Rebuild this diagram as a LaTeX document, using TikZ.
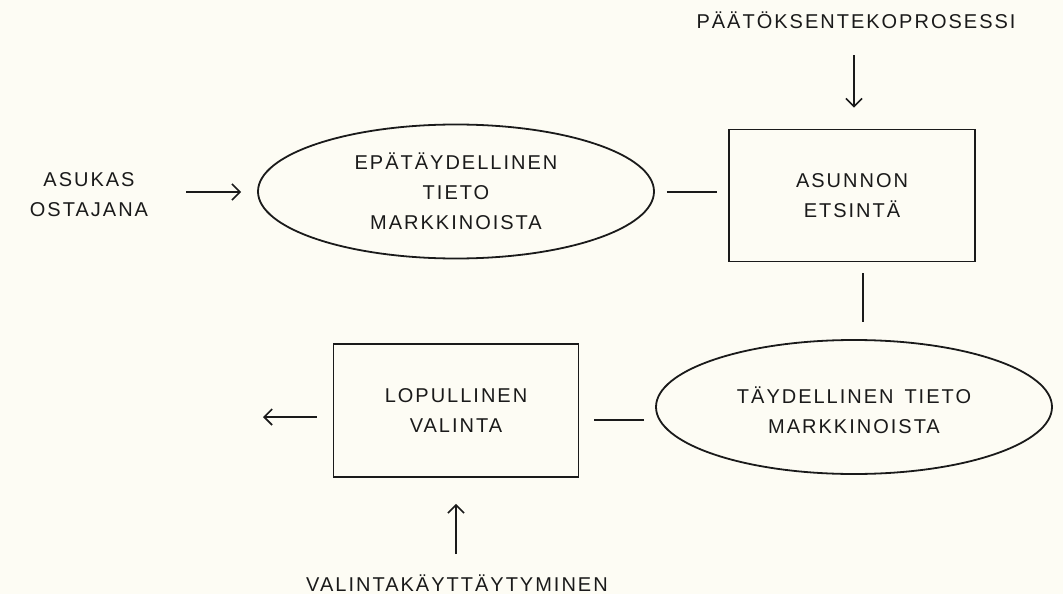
\documentclass[tikz,border=0pt]{standalone}
\usepackage{fontspec}
\setmainfont{Liberation Sans}[LetterSpace=10]
\usetikzlibrary{shapes.geometric,arrows.meta,calc}
\definecolor{bg}{HTML}{FDFCF4}
\definecolor{ink}{HTML}{1A1A1A}
\begin{document}
\begin{tikzpicture}[x=1pt,y=-1pt,
  txt/.style={font=\fontsize{20pt}{30pt}\selectfont, text=ink, align=center, inner sep=0pt},
  oval/.style={txt, draw=ink, line width=1.8pt, ellipse, minimum width=396pt, minimum height=134pt},
  boxx/.style={txt, draw=ink, line width=1.8pt, rectangle, minimum width=246pt, minimum height=132pt},
  link/.style={draw=ink, line width=1.8pt},
  arr/.style={link, -{Straight Barb[length=8pt,width=16pt,line width=1.6pt]}}]
\fill[bg] (0,0) rectangle (1063,594);
\useasboundingbox (0,0) rectangle (1063,594);

\node[oval] (e1) at (456,191.5) {EPÄTÄYDELLINEN\\TIETO\\MARKKINOISTA};
\node[boxx] (b1) at (852,195.5) {ASUNNON\\ETSINTÄ};
\node[oval, text height=52.3pt] (e2) at (854,407) {TÄYDELLINEN\, TIETO\\MARKKINOISTA};
\node[boxx, minimum width=245pt, minimum height=133pt] (b2) at (456,410.5) {LOPULLINEN\\VALINTA};

\node[txt] (l1) at (89,195) {ASUKAS\\OSTAJANA};
\node[txt, anchor=base] (l2) at (856,29) {PÄÄTÖKSENTEKOPROSESSI};
\node[txt, anchor=base] (l3) at (457,591) {VALINTAKÄYTTÄYTYMINEN};
\coordinate (out) at (263,417);

\draw[arr, shorten <=38pt, shorten >=16pt] ([yshift=3pt]l1.east) -- ([yshift=3pt]l1.east -| e1.west);
\draw[link, shorten <=12pt, shorten >=11pt] ([yshift=-0.5pt]e1.east) -- ([yshift=-0.5pt]e1.east -| b1.west);
\draw[arr, shorten <=26pt, shorten >=21pt] ([xshift=-2pt]l2.south) -- ([xshift=-2pt]l2.south |- b1.north);
\draw[link, shorten <=11pt, shorten >=17pt] ([xshift=11pt]b1.south) -- ([xshift=11pt]b1.south |- e2.north);
\draw[link, shorten <=11pt, shorten >=15pt] ([yshift=-13pt]e2.west) -- ([yshift=-13pt]e2.west -| b2.east);
\draw[arr, shorten <=16pt] ([yshift=-6.5pt]b2.west) -- (out);
\draw[arr, shorten <=20pt, shorten >=26pt] ([xshift=-1pt]l3.north) -- ([xshift=-1pt]l3.north |- b2.south);
\end{tikzpicture}
\end{document}
